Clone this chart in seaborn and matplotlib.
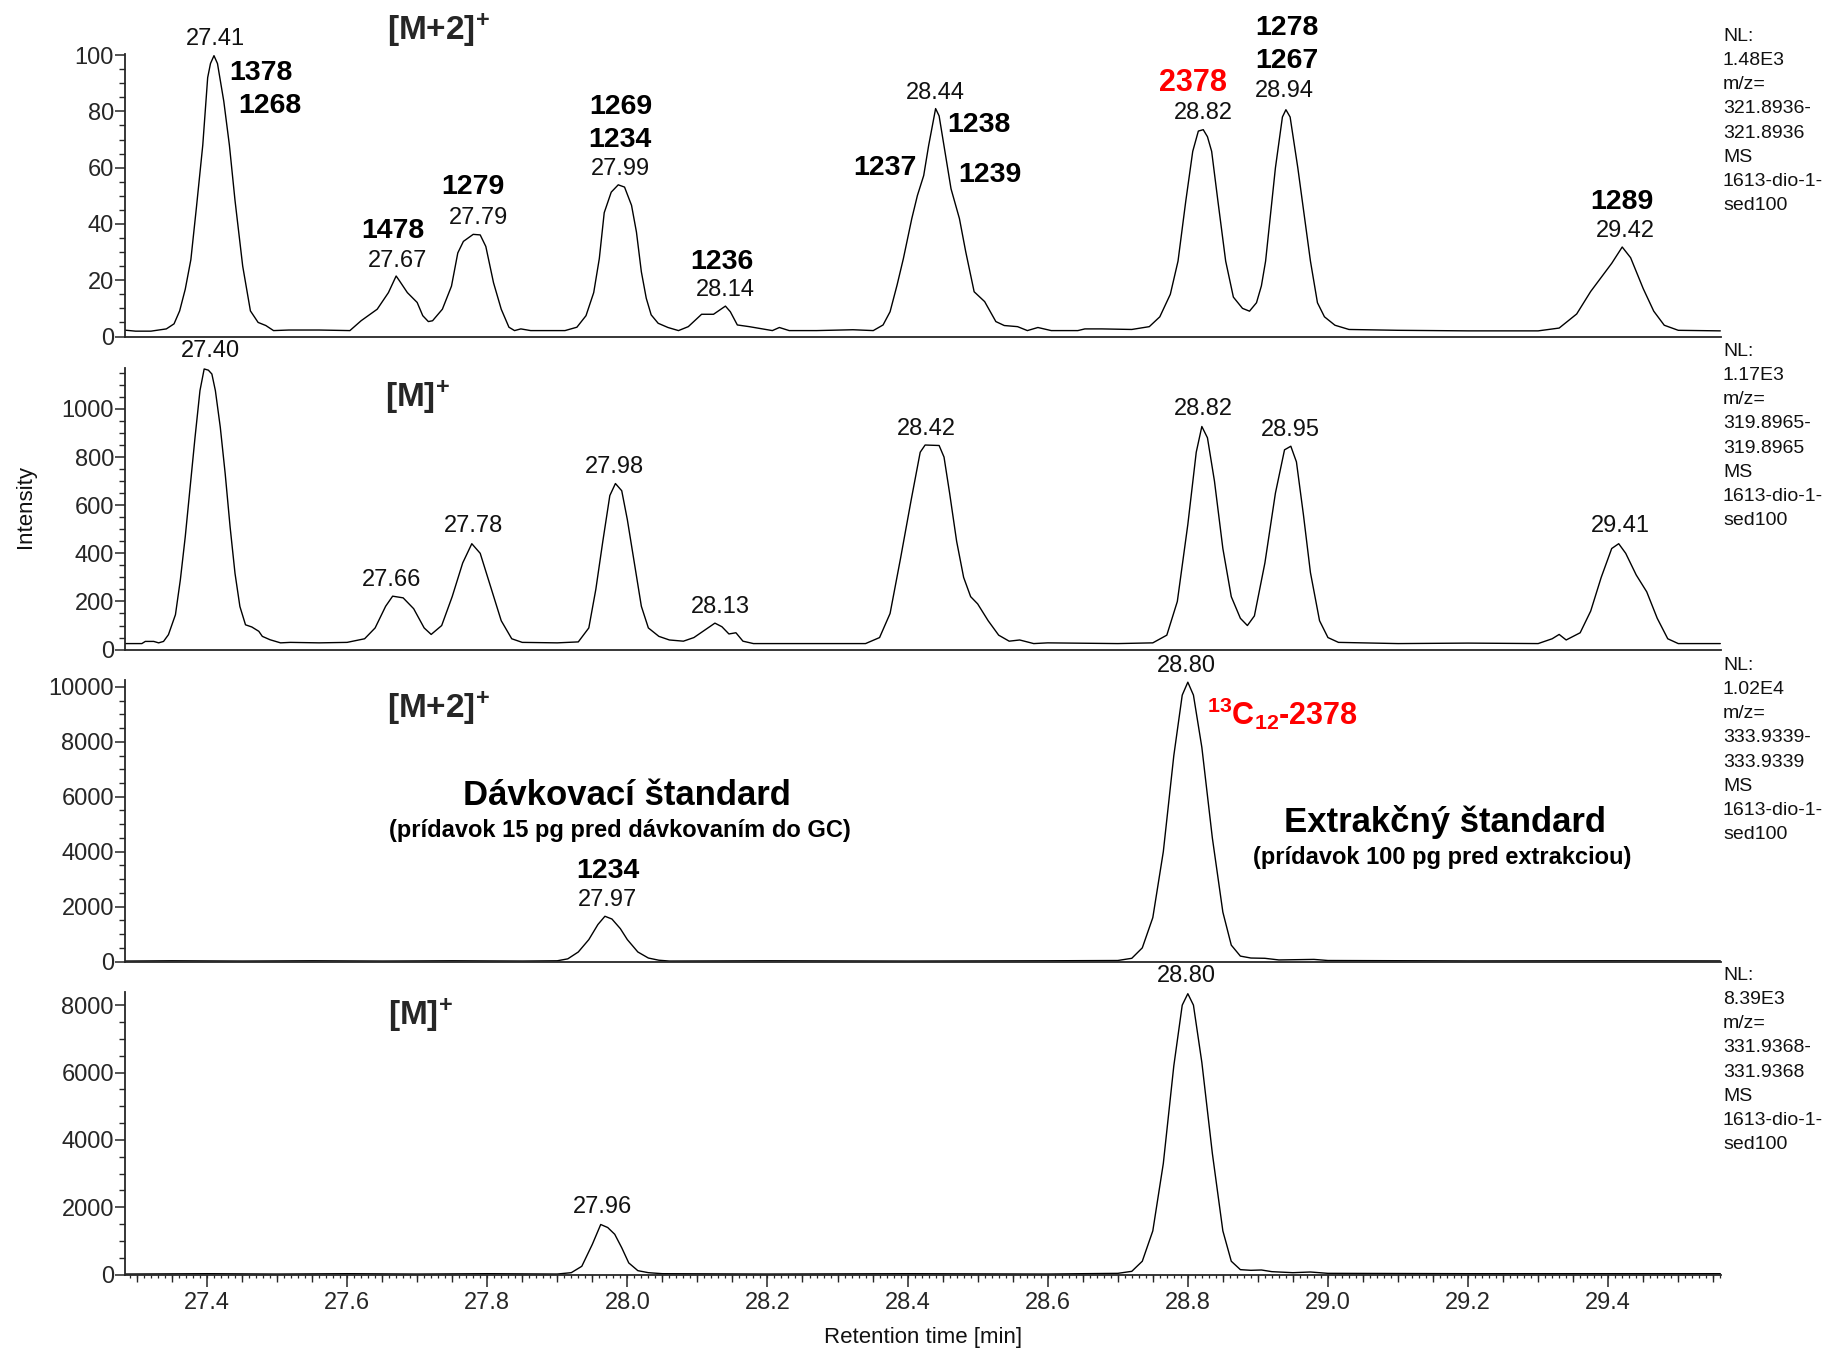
import numpy as np
import pandas as pd
import matplotlib
matplotlib.use("Agg")
import matplotlib.pyplot as plt
import seaborn as sns
from matplotlib.ticker import MultipleLocator, NullFormatter

sns.set_style("ticks")
plt.rcParams["font.family"] = ["Liberation Sans", "DejaVu Sans"]
plt.rcParams["mathtext.fontset"] = "custom"
plt.rcParams["mathtext.rm"] = "Liberation Sans"
plt.rcParams["mathtext.bf"] = "Liberation Sans:bold"
plt.rcParams["mathtext.it"] = "Liberation Sans:italic"

# ---------------- data ----------------
# Panel 1: [M+2]+ native, relative abundance (%)
p1_rt = [27.281, 27.298, 27.32, 27.342, 27.353, 27.361, 27.369, 27.377, 27.385, 27.394,
         27.401, 27.405, 27.41, 27.415, 27.424, 27.432, 27.44, 27.451, 27.462, 27.473,
         27.484, 27.495, 27.517, 27.56, 27.604, 27.62, 27.643, 27.659, 27.67, 27.675,
         27.686, 27.7, 27.708, 27.716, 27.722, 27.736, 27.749, 27.758, 27.766, 27.78,
         27.79, 27.798, 27.809, 27.82, 27.831, 27.839, 27.848, 27.862, 27.911, 27.928,
         27.941, 27.952, 27.96, 27.967, 27.977, 27.987, 27.996, 28.006, 28.013, 28.02,
         28.027, 28.034, 28.044, 28.058, 28.073, 28.087, 28.106, 28.123, 28.14, 28.147,
         28.157, 28.174, 28.193, 28.207, 28.217, 28.231, 28.27, 28.322, 28.351, 28.365,
         28.375, 28.385, 28.394, 28.406, 28.414, 28.423, 28.43, 28.44, 28.445, 28.452,
         28.462, 28.474, 28.483, 28.495, 28.51, 28.526, 28.538, 28.557, 28.571, 28.586,
         28.605, 28.643, 28.653, 28.677, 28.72, 28.745, 28.76, 28.775, 28.786, 28.797,
         28.807, 28.815, 28.822, 28.828, 28.834, 28.843, 28.854, 28.865, 28.878, 28.888,
         28.898, 28.905, 28.911, 28.925, 28.935, 28.94, 28.946, 28.957, 28.975, 28.985,
         28.995, 29.01, 29.03, 29.1, 29.2, 29.3, 29.33, 29.355, 29.375, 29.39,
         29.405, 29.42, 29.432, 29.45, 29.465, 29.48, 29.5, 29.56]
p1_int = [2.3, 1.9, 1.9, 2.7, 4.5, 9.1, 16.8, 27.3, 46, 68,
          92, 97, 99.8, 97, 83.6, 68, 48.4, 25, 9.1, 5,
          3.9, 2.1, 2.3, 2.3, 2.1, 5.6, 9.7, 15.6, 21.5, 19.7,
          15.6, 12.1, 7.4, 5.3, 5.6, 9.7, 17.9, 29.7, 33.8, 36.3,
          36.1, 32, 19.1, 9.7, 3.3, 2.1, 2.7, 2.1, 2.1, 3.3,
          7.4, 15.6, 27.7, 44, 51.3, 53.9, 53.1, 46.6, 37.1, 23,
          13.6, 7.7, 4.7, 3.2, 2.1, 3.5, 7.9, 7.9, 10.8, 8.8,
          4.1, 3.5, 2.7, 2.1, 3.2, 2.1, 2.1, 2.4, 2.1, 4.1,
          8.8, 18.3, 27.7, 41.9, 50.1, 57.2, 67.8, 81, 78.4, 67.8,
          52.5, 41.9, 30.1, 15.9, 12.4, 5.3, 3.9, 3.5, 2.1, 3.2,
          2.1, 2.1, 2.7, 2.7, 2.5, 3.5, 7, 15, 26.8, 48,
          65.8, 73, 73.5, 71, 65.8, 48, 26.8, 14, 10, 9,
          12, 18, 26.8, 59.9, 78, 80.6, 78, 59.9, 26.8, 12,
          7, 4, 2.5, 2.2, 2.0, 2.0, 3, 8, 16, 21,
          26, 31.8, 28, 17, 9, 4, 2.2, 2.0]

# Panel 2: [M]+ native, intensity
p2_rt = [27.274, 27.307, 27.312, 27.324, 27.331, 27.338, 27.345, 27.355, 27.362, 27.369,
         27.376, 27.383, 27.39, 27.396, 27.402, 27.407, 27.412, 27.419, 27.426, 27.433,
         27.44, 27.447, 27.455, 27.464, 27.474, 27.479, 27.49, 27.505, 27.519, 27.56,
         27.6, 27.625, 27.64, 27.655, 27.665, 27.68, 27.695, 27.71, 27.72, 27.735,
         27.75, 27.765, 27.778, 27.79, 27.805, 27.82, 27.835, 27.85, 27.9, 27.93,
         27.945, 27.955, 27.965, 27.975, 27.983, 27.992, 28.0, 28.01, 28.02, 28.03,
         28.045, 28.06, 28.08, 28.095, 28.11, 28.125, 28.135, 28.145, 28.155, 28.165,
         28.18, 28.25, 28.34, 28.36, 28.375, 28.39, 28.405, 28.418, 28.425, 28.445,
         28.452, 28.46, 28.47, 28.48, 28.49, 28.5, 28.515, 28.53, 28.545, 28.56,
         28.58, 28.6, 28.7, 28.75, 28.77, 28.785, 28.8, 28.812, 28.82, 28.828,
         28.838, 28.85, 28.862, 28.875, 28.885, 28.895, 28.91, 28.925, 28.938, 28.947,
         28.955, 28.965, 28.975, 28.988, 29.0, 29.015, 29.1, 29.2, 29.3, 29.32,
         29.33, 29.34, 29.36, 29.375, 29.39, 29.405, 29.415, 29.425, 29.44, 29.455,
         29.47, 29.485, 29.5, 29.56]
p2_int = [25, 25, 34, 34, 28, 34, 62, 145, 290, 469,
          676, 883, 1076, 1166, 1161, 1145, 1076, 924, 731, 510,
          317, 179, 103, 94, 76, 55, 41, 28, 30, 28,
          30, 45, 90, 180, 222, 215, 170, 90, 63, 100,
          220, 360, 440, 400, 260, 120, 45, 30, 28, 32,
          90, 250, 450, 640, 690, 660, 540, 360, 180, 90,
          55, 40, 35, 50, 80, 110, 95, 65, 70, 35,
          25, 25, 25, 50, 150, 380, 620, 820, 850, 848,
          800, 650, 450, 300, 220, 190, 120, 60, 35, 40,
          25, 28, 25, 28, 60, 200, 520, 820, 927, 880,
          700, 420, 220, 130, 100, 140, 360, 650, 830, 845,
          780, 560, 320, 120, 50, 30, 25, 27, 25, 45,
          63, 40, 70, 160, 300, 420, 440, 400, 310, 240,
          130, 45, 25, 25]

# Panel 3: [M+2]+ labelled standards, intensity
p3_rt = [27.283, 27.35, 27.45, 27.55, 27.65, 27.75, 27.85, 27.9, 27.915, 27.93,
         27.945, 27.958, 27.968, 27.978, 27.99, 28.0, 28.015, 28.03, 28.045, 28.06,
         28.2, 28.4, 28.6, 28.7, 28.72, 28.735, 28.75, 28.765, 28.78, 28.792,
         28.8, 28.808, 28.82, 28.835, 28.85, 28.862, 28.875, 28.89, 28.91, 28.93,
         28.98, 29.0, 29.2, 29.4, 29.56]
p3_int = [20, 30, 20, 30, 20, 30, 20, 30, 100, 350,
          800, 1350, 1650, 1550, 1200, 800, 350, 130, 50, 20,
          30, 20, 30, 40, 120, 500, 1600, 4000, 7500, 9700,
          10170, 9700, 7800, 4500, 1800, 600, 200, 130, 120, 60,
          80, 40, 25, 30, 25]

# Panel 4: [M]+ labelled standards, intensity
p4_rt = [27.283, 27.4, 27.5, 27.6, 27.7, 27.8, 27.9, 27.92, 27.935, 27.95,
         27.962, 27.972, 27.982, 27.992, 28.002, 28.015, 28.03, 28.05, 28.2, 28.4,
         28.6, 28.7, 28.72, 28.735, 28.75, 28.765, 28.78, 28.792, 28.8, 28.808,
         28.82, 28.835, 28.85, 28.862, 28.875, 28.89, 28.905, 28.92, 28.95, 28.975,
         29.0, 29.2, 29.4, 29.56]
p4_int = [20, 30, 20, 30, 20, 30, 20, 60, 250, 900,
          1490, 1400, 1200, 800, 350, 120, 60, 30, 20, 30,
          20, 40, 100, 400, 1300, 3300, 6200, 8000, 8340, 8000,
          6300, 3600, 1300, 400, 150, 130, 140, 90, 60, 80,
          40, 30, 30, 30]

# annotations: (rt, y, text)
p1_rt_labels = [(27.412, 105.8, "27.41"), (27.672, 26.9, "27.67"), (27.788, 42.1, "27.79"),
                (27.99, 59.5, "27.99"), (28.14, 16.5, "28.14"), (28.44, 86.4, "28.44"),
                (28.822, 79.3, "28.82"), (28.938, 87.2, "28.94"), (29.425, 37.6, "29.42")]
p1_congeners = [(27.477, 93.8, "1378"), (27.49, 82.0, "1268"), (27.665, 37.6, "1478"),
                (27.78, 53.3, "1279"), (27.99, 81.4, "1269"), (27.99, 69.8, "1234"),
                (28.135, 26.4, "1236"), (28.502, 75.2, "1238"), (28.367, 59.9, "1237"),
                (28.517, 57.4, "1239"), (28.942, 109.5, "1278"), (28.942, 97.9, "1267"),
                (29.42, 47.9, "1289")]
p2_rt_labels = [(27.405, 1241, "27.40"), (27.663, 290, "27.66"), (27.78, 512, "27.78"),
                (27.982, 758, "27.98"), (28.133, 179, "28.13"), (28.427, 918, "28.42"),
                (28.822, 1000, "28.82"), (28.947, 913, "28.95"), (29.417, 512, "29.41")]
p3_rt_labels = [(27.972, 2246, "27.97"), (28.798, 10763, "28.80")]
p4_rt_labels = [(27.965, 2007, "27.96"), (28.798, 8858, "28.80")]

nl_blocks = ["NL:\n1.48E3\nm/z=\n321.8936-\n321.8936\nMS\n1613-dio-1-\nsed100",
             "NL:\n1.17E3\nm/z=\n319.8965-\n319.8965\nMS\n1613-dio-1-\nsed100",
             "NL:\n1.02E4\nm/z=\n333.9339-\n333.9339\nMS\n1613-dio-1-\nsed100",
             "NL:\n8.39E3\nm/z=\n331.9368-\n331.9368\nMS\n1613-dio-1-\nsed100"]

# ---------------- figure ----------------
W, H = 1832, 1349
fig = plt.figure(figsize=(W / 100, H / 100), dpi=100)

left = 125 / W
width = (1721 - 125) / W
panels = [
    (p1_rt, p1_int, 336.5, 53.7, (0, 100.5), 20, 5),
    (p2_rt, p2_int, 649.6, 368.0, (0, 1170), 200, 50),
    (p3_rt, p3_int, 961.6, 680.0, (0, 10250), 2000, 500),
    (p4_rt, p4_int, 1274.7, 992.0, (0, 8390), 2000, 500),
]
XMIN, XMAX = 27.283, 29.561
axes = []
for i, (rt, inten, ybot, ytop, ylim, major, minor) in enumerate(panels):
    ax = fig.add_axes([left, 1 - ybot / H, width, (ybot - ytop) / H])
    df = pd.DataFrame({"rt": rt, "intensity": inten})
    sns.lineplot(data=df, x="rt", y="intensity", ax=ax, color="black",
                 linewidth=1.0, sort=True, estimator=None)
    ax.set_xlim(XMIN, XMAX)
    ax.set_ylim(*ylim)
    ax.set_xlabel("")
    ax.set_ylabel("")
    for s in ["top", "right"]:
        ax.spines[s].set_visible(False)
    for s in ["left", "bottom"]:
        ax.spines[s].set_linewidth(1.3)
    ax.yaxis.set_major_locator(MultipleLocator(major))
    ax.yaxis.set_minor_locator(MultipleLocator(minor))
    ax.tick_params(axis="y", which="major", length=7, width=1.1, labelsize=17, pad=1,
                   direction="out")
    ax.tick_params(axis="y", which="minor", length=4.5, width=1.0, direction="out")
    if i < 3:
        ax.tick_params(axis="x", which="both", bottom=False, labelbottom=False)
    else:
        ax.xaxis.set_major_locator(MultipleLocator(0.2))
        ax.xaxis.set_minor_locator(MultipleLocator(0.05))
        ax.tick_params(axis="x", which="major", length=8.5, width=1.1, labelsize=17,
                       pad=4, direction="out")
        ax.tick_params(axis="x", which="minor", length=5, width=1.0, direction="out")
        sec = ax.secondary_xaxis("bottom")
        sec.xaxis.set_major_locator(MultipleLocator(0.01))
        sec.xaxis.set_major_formatter(NullFormatter())
        sec.tick_params(axis="x", length=2.5, width=0.9, direction="out")
        sec.spines["bottom"].set_visible(False)
    ax.set_facecolor("white")
    axes.append(ax)

ax1, ax2, ax3, ax4 = axes

def rt_text(ax, items, size=17):
    for x, y, t in items:
        ax.text(x, y, t, ha="center", va="center", fontsize=size, color="#111111",
                clip_on=False)

rt_text(ax1, p1_rt_labels)
for x, y, t in p1_congeners:
    ax1.text(x, y, t, ha="center", va="center", fontsize=20.5, fontweight="bold",
             color="black", clip_on=False)
ax1.text(28.808, 90.1, "2378", ha="center", va="center", fontsize=22, fontweight="bold",
         color="#ff0000", clip_on=False)
ax1.text(27.73, 108.7, r"[M+2]$^{\mathbf{+}}$", ha="center", va="center", fontsize=24,
         fontweight="bold", clip_on=False)

rt_text(ax2, p2_rt_labels)
ax2.text(27.7, 1048, r"[M]$^{\mathbf{+}}$", ha="center", va="center", fontsize=24,
         fontweight="bold", clip_on=False)

rt_text(ax3, p3_rt_labels)
ax3.text(27.73, 9237, r"[M+2]$^{\mathbf{+}}$", ha="center", va="center", fontsize=24,
         fontweight="bold", clip_on=False)
ax3.text(28.827, 9025, r"$^{\mathbf{13}}$C$_{\mathbf{12}}$-2378", ha="left", va="center",
         fontsize=22, fontweight="bold", color="#ff0000", clip_on=False)
ax3.text(28.0, 6059, "Dávkovací štandard", ha="center", va="center", fontsize=25,
         fontweight="bold", color="black", clip_on=False)
ax3.text(27.99, 4788, "(prídavok 15 pg pred dávkovaním do GC)", ha="center", va="center",
         fontsize=17, fontweight="bold", color="black", clip_on=False)
ax3.text(27.972, 3305, "1234", ha="center", va="center", fontsize=20.5, fontweight="bold",
         color="black", clip_on=False)
ax3.text(29.167, 5085, "Extrakčný štandard", ha="center", va="center", fontsize=25,
         fontweight="bold", color="black", clip_on=False)
ax3.text(29.163, 3771, "(prídavok 100 pg pred extrakciou)", ha="center", va="center",
         fontsize=17, fontweight="bold", color="black", clip_on=False)

rt_text(ax4, p4_rt_labels)
ax4.text(27.705, 7716, r"[M]$^{\mathbf{+}}$", ha="center", va="center", fontsize=24,
         fontweight="bold", clip_on=False)

# NL info blocks on the right
nl_tops = [28, 343, 657, 967]
for top, txt in zip(nl_tops, nl_blocks):
    fig.text(1723 / W, 1 - top / H, txt, ha="left", va="top", fontsize=14,
             linespacing=1.55, color="#111111")

fig.text(26 / W, 1 - 506 / H, "Intensity", rotation=90, ha="center", va="center",
         fontsize=16, color="#111111")
fig.text(923 / W, 1 - 1338 / H, "Retention time [min]", ha="center", va="center",
         fontsize=16, color="#111111")

fig.savefig("out.png", dpi=100, facecolor="white")
